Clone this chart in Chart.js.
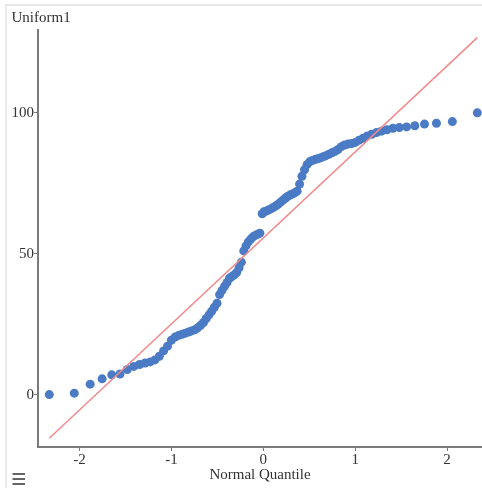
<!DOCTYPE html>
<html>
<head>
<meta charset="utf-8">
<script src="https://cdn.jsdelivr.net/npm/chart.js@4/dist/chart.umd.min.js"></script>
<style>
  html, body { margin: 0; padding: 0; background: #fff; overflow: hidden; width: 482px; height: 488px; }
  #frame { position: absolute; left: 5px; top: 4px; width: 520px; height: 520px;
           border-left: 2px solid #e8e8e8; border-top: 2px solid #e8e8e8; }
  #qq { position: absolute; left: 0; top: 0; }
</style>
</head>
<body>
<div id="frame"></div>
<canvas id="qq" width="482" height="488"></canvas>
<script>
// QQ plot: Uniform1 against normal quantiles

var quantiles = [-2.330, -2.058, -1.885, -1.755, -1.650, -1.560, -1.481, -1.410, -1.346, -1.287,
  -1.232, -1.180, -1.132, -1.086, -1.043, -1.001, -0.961, -0.922, -0.885, -0.849,
  -0.814, -0.780, -0.746, -0.714, -0.682, -0.651, -0.621, -0.591, -0.562, -0.533,
  -0.504, -0.476, -0.449, -0.421, -0.395, -0.368, -0.342, -0.316, -0.290, -0.264,
  -0.239, -0.213, -0.188, -0.163, -0.137, -0.112, -0.087, -0.062, -0.037, -0.012,
  0.012, 0.037, 0.062, 0.087, 0.112, 0.137, 0.163, 0.188, 0.213, 0.239,
  0.264, 0.290, 0.316, 0.342, 0.368, 0.395, 0.421, 0.449, 0.476, 0.504,
  0.533, 0.562, 0.591, 0.621, 0.651, 0.682, 0.714, 0.746, 0.780, 0.814,
  0.849, 0.885, 0.922, 0.961, 1.001, 1.043, 1.086, 1.132, 1.180, 1.232,
  1.287, 1.346, 1.410, 1.481, 1.560, 1.650, 1.755, 1.885, 2.058, 2.330];

var uniform1 = [0, 0.5, 3.7, 5.6, 7.0, 7.3, 8.9, 10.0, 10.7, 11.2,
  11.6, 12.3, 13.6, 15.5, 17.2, 19.3, 20.4, 21.0, 21.4, 21.8,
  22.2, 22.6, 23.0, 23.7, 24.6, 25.6, 27.0, 28.3, 29.6, 31.0,
  32.4, 35.5, 37.0, 38.5, 39.8, 41.3, 41.9, 42.5, 43.3, 45.0,
  47.0, 51.0, 52.8, 54.2, 55.2, 56.0, 56.5, 56.9, 57.3, 64.2,
  65.0, 65.2, 65.6, 66.0, 66.5, 67.0, 67.6, 68.3, 69.0, 69.7,
  70.3, 70.8, 71.2, 71.6, 72.2, 74.7, 77.5, 79.8, 81.6, 82.6,
  83.1, 83.4, 83.7, 84.0, 84.4, 84.8, 85.3, 85.8, 86.3, 87.0,
  88.0, 88.6, 88.9, 89.1, 89.5, 90.3, 91.0, 91.8, 92.4, 93.0,
  93.5, 94.0, 94.5, 94.8, 95.0, 95.4, 96.0, 96.3, 96.9, 100];

// reference line end points
var lineX = [-2.33, 2.33];
var lineY = [-15.5, 126.7];

var xTicks = [-2, -1, 0, 1, 2];
var yTicks = [0, 50, 100];

var textColor = '#333';
var axisColor = '#7a7a7a';
var serif = '"Liberation Serif", "DejaVu Serif", serif';

var points = quantiles.map(function (q, i) { return {x: q, y: uniform1[i]}; });
var refLine = lineX.map(function (q, i) { return {x: q, y: lineY[i]}; });

// y axis title at top left + menu icon
var extras = {
  id: 'extras',
  afterDraw: function (chart) {
    var c = chart.ctx;
    c.save();
    c.fillStyle = textColor;
    c.font = '15px ' + serif;
    c.textBaseline = 'alphabetic';
    c.textAlign = 'left';
    c.fillText('Uniform1', 11.5, 22);
    c.fillStyle = '#666';
    [474, 479, 484].forEach(function (y) { c.fillRect(12.5, y - 1, 12.5, 2); });
    c.restore();
  }
};

new Chart(document.getElementById('qq'), {
  type: 'scatter',
  data: {
    datasets: [{
      data: refLine,
      showLine: true,
      borderColor: '#f08a8a',
      borderWidth: 1.5,
      pointRadius: 0,
      fill: false
    }, {
      data: points,
      backgroundColor: '#4a7bc4',
      borderWidth: 0,
      pointRadius: 4.5,
      pointHoverRadius: 4.5,
      clip: false
    }]
  },
  options: {
    responsive: false,
    animation: false,
    layout: {autoPadding: false, padding: {left: 0, right: 0, top: 30, bottom: 0}},
    plugins: {legend: {display: false}, tooltip: {enabled: false}},
    scales: {
      x: {
        type: 'linear',
        min: -2.453,
        max: 2.381,
        afterFit: function (s) { s.height = 41; s.paddingLeft = 0; s.paddingRight = 0; },
        afterBuildTicks: function (s) { s.ticks = xTicks.map(function (v) { return {value: v}; }); },
        grid: {display: true, drawOnChartArea: false, drawTicks: true, tickLength: 4, color: axisColor},
        border: {display: true, color: axisColor, width: 2},
        ticks: {color: textColor, font: {family: serif, size: 15}, padding: 0, maxRotation: 0},
        title: {display: true, text: 'Normal Quantile', color: textColor,
                font: {family: serif, size: 15}, padding: {top: 0, bottom: 4}}
      },
      y: {
        type: 'linear',
        min: -18.6,
        max: 129.4,
        afterFit: function (s) { s.width = 38; s.paddingTop = 0; s.paddingBottom = 0; },
        afterBuildTicks: function (s) { s.ticks = yTicks.map(function (v) { return {value: v}; }); },
        grid: {display: true, drawOnChartArea: false, drawTicks: true, tickLength: 4, color: axisColor},
        border: {display: true, color: axisColor, width: 2},
        ticks: {color: textColor, font: {family: serif, size: 15}, padding: 0}
      }
    }
  },
  plugins: [extras]
});
</script>
</body>
</html>
